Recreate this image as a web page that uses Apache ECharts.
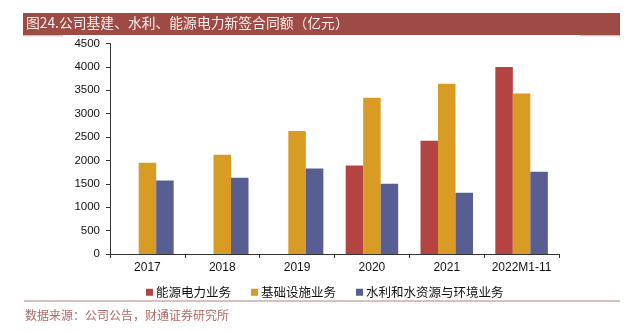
<!DOCTYPE html>
<html>
<head>
<meta charset="utf-8">
<script src="https://cdn.jsdelivr.net/npm/echarts@6/dist/echarts.min.js"></script>
<style>
  html, body { margin: 0; padding: 0; background: #fff; }
  #chart { width: 625px; height: 331px; }
</style>
</head>
<body>
<div id="chart"></div>
<script>
// Categories and new-contract amounts (亿元) by business line
const years = ['2017', '2018', '2019', '2020', '2021', '2022M1-11'];
const energyPower = [null, null, null, 1890, 2420, 4000];
const infrastructure = [1950, 2120, 2630, 3340, 3640, 3430];
const waterEnv = [1570, 1630, 1830, 1500, 1310, 1760];
const seriesNames = ['能源电力业务', '基础设施业务', '水利和水资源与环境业务'];
const yTicks = { min: 0, max: 4500, step: 500 };

const titleText = '图24.公司基建、水利、能源电力新签合同额（亿元）';
const sourceText = '数据来源：公司公告，财通证券研究所';

const colors = ['#B44442', '#D89B23', '#585E91'];
const cjk = '"Noto Sans CJK SC", sans-serif';
const latin = '"Liberation Sans", Arial, sans-serif';

const chart = echarts.init(document.getElementById('chart'), null, { renderer: 'canvas' });

const barSeries = [energyPower, infrastructure, waterEnv].map((data, i) => ({
  name: seriesNames[i],
  type: 'bar',
  data: data,
  barWidth: 17.5,
  barGap: '0%',
  itemStyle: { color: colors[i] }
}));

chart.setOption({
  animation: false,
  color: colors,
  grid: { left: 110, right: 66, top: 43.5, bottom: 77, containLabel: false },
  legend: {
    left: 141,
    top: 281,
    itemWidth: 7,
    itemHeight: 7,
    itemGap: 20,
    icon: 'rect',
    textStyle: { fontFamily: cjk, fontSize: 12.5, color: '#111', padding: [0, 0, 0, -2] },
    data: seriesNames
  },
  xAxis: {
    type: 'category',
    data: years,
    axisLine: { lineStyle: { color: '#333', width: 1 } },
    axisTick: { show: true, length: 4, lineStyle: { color: '#333' } },
    axisLabel: { color: '#111', fontFamily: latin, fontSize: 12, margin: 8, interval: 0 }
  },
  yAxis: {
    type: 'value',
    min: yTicks.min,
    max: yTicks.max,
    interval: yTicks.step,
    splitLine: { show: false },
    axisLine: { show: true, lineStyle: { color: '#333', width: 1 } },
    axisTick: { show: true, length: 4, lineStyle: { color: '#333' } },
    axisLabel: {
      color: '#111', fontFamily: latin, fontSize: 11.5, margin: 10,
      formatter: v => String(v)
    }
  },
  graphic: [
    // Title banner
    { type: 'rect', shape: { x: 23, y: 13, width: 597, height: 22 }, style: { fill: '#9E4A45' }, z: 10 },
    { type: 'rect', shape: { x: 23, y: 35, width: 40, height: 1.2 }, style: { fill: '#E8B9B6' }, z: 10 },
    { type: 'rect', shape: { x: 580, y: 35, width: 40, height: 1.2 }, style: { fill: '#E8B9B6' }, z: 10 },
    {
      type: 'text', left: 26, top: 15.5, z: 11,
      style: { text: titleText, fill: '#FBEFEE', font: '13.8px ' + cjk }
    },
    // Source footer
    { type: 'rect', shape: { x: 24, y: 300.5, width: 596, height: 1 }, style: { fill: '#B8807C' }, z: 10 },
    {
      type: 'text', left: 25, top: 309, z: 11,
      style: { text: sourceText, fill: '#B06A66', font: '12px ' + cjk }
    }
  ],
  series: barSeries
});
</script>
</body>
</html>
